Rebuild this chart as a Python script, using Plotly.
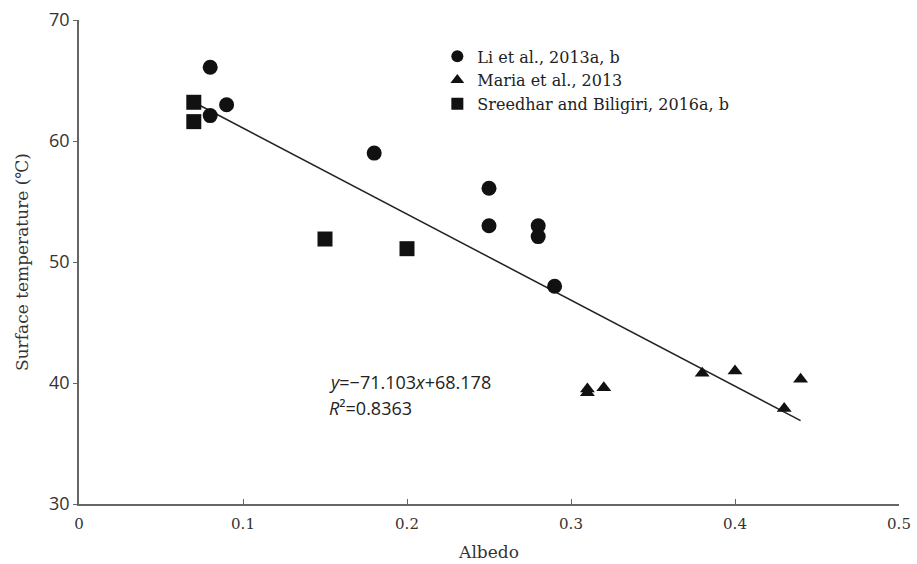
import plotly.graph_objects as go

li_x = [0.08, 0.08, 0.09, 0.18, 0.25, 0.25, 0.28, 0.28, 0.29]
li_y = [66.1, 62.1, 63.0, 59.0, 56.1, 53.0, 53.0, 52.1, 48.0]

maria_x = [0.31, 0.31, 0.32, 0.38, 0.40, 0.43, 0.44]
maria_y = [39.2, 39.5, 39.6, 40.8, 41.0, 37.9, 40.3]

sree_x = [0.07, 0.07, 0.15, 0.20]
sree_y = [63.2, 61.6, 51.9, 51.1]

slope, intercept = -71.103, 68.178
r2 = 0.8363
fit_x = [0.07, 0.44]
fit_y = [slope * v + intercept for v in fit_x]

x_ticks = [0, 0.1, 0.2, 0.3, 0.4, 0.5]
y_ticks = [30, 40, 50, 60, 70]

serif = "DejaVu Serif"
sans = "Open Sans"

fig = go.Figure()
fig.add_trace(go.Scatter(x=fit_x, y=fit_y, mode="lines",
                         line=dict(color="#222", width=1.5), showlegend=False))
fig.add_trace(go.Scatter(x=li_x, y=li_y, mode="markers", name="Li et al., 2013a, b",
                         marker=dict(symbol="circle", size=15, color="#111")))
fig.add_trace(go.Scatter(x=maria_x, y=maria_y, mode="markers", name="Maria et al., 2013",
                         marker=dict(symbol="triangle-up", size=13, color="#111")))
fig.add_trace(go.Scatter(x=sree_x, y=sree_y, mode="markers", name="Sreedhar and Biligiri, 2016a, b",
                         marker=dict(symbol="square", size=15, color="#111")))

fig.add_annotation(x=0.151, y=40.05, xref="x", yref="y", xanchor="left", yanchor="middle",
                   showarrow=False, align="left",
                   text=f"<i>y</i>=\u2212{abs(slope)}<i>x</i>+{intercept}",
                   font=dict(family=sans, size=18, color="#222"))
fig.add_annotation(x=0.151, y=37.95, xref="x", yref="y", xanchor="left", yanchor="middle",
                   showarrow=False, align="left",
                   text=f"<i>R</i>\u00b2={r2}",
                   font=dict(family=sans, size=18, color="#222"))

fig.update_layout(
    width=917, height=564,
    margin=dict(l=79, r=18, t=20, b=60),
    plot_bgcolor="white", paper_bgcolor="white",
    legend=dict(x=0.437, y=0.96, xanchor="left", yanchor="top",
                font=dict(family=serif, size=16, color="#222"),
                bgcolor="rgba(0,0,0,0)", itemsizing="constant", tracegroupgap=0),
    xaxis=dict(range=[0, 0.5], tickvals=x_ticks, ticktext=["0", "0.1", "0.2", "0.3", "0.4", "0.5"],
               showgrid=False, zeroline=False, showline=True, linecolor="#666", linewidth=1.5,
               ticks="inside", ticklen=5, tickcolor="#666", automargin=False,
               ticklabelstandoff=5,
               tickfont=dict(family=serif, size=15, color="#333"),
               title=dict(text="Albedo", font=dict(family=serif, size=17, color="#333"), standoff=14)),
    yaxis=dict(range=[30, 70], tickvals=y_ticks,
               showgrid=False, zeroline=False, showline=True, linecolor="#666", linewidth=1.5,
               ticks="outside", ticklen=4, tickcolor="#666", automargin=False,
               tickfont=dict(family=sans, size=18, color="#333"),
               title=dict(text="Surface temperature (\u2103)", font=dict(family=serif, size=17, color="#333"), standoff=16)),
)

fig.write_html("out.html")
